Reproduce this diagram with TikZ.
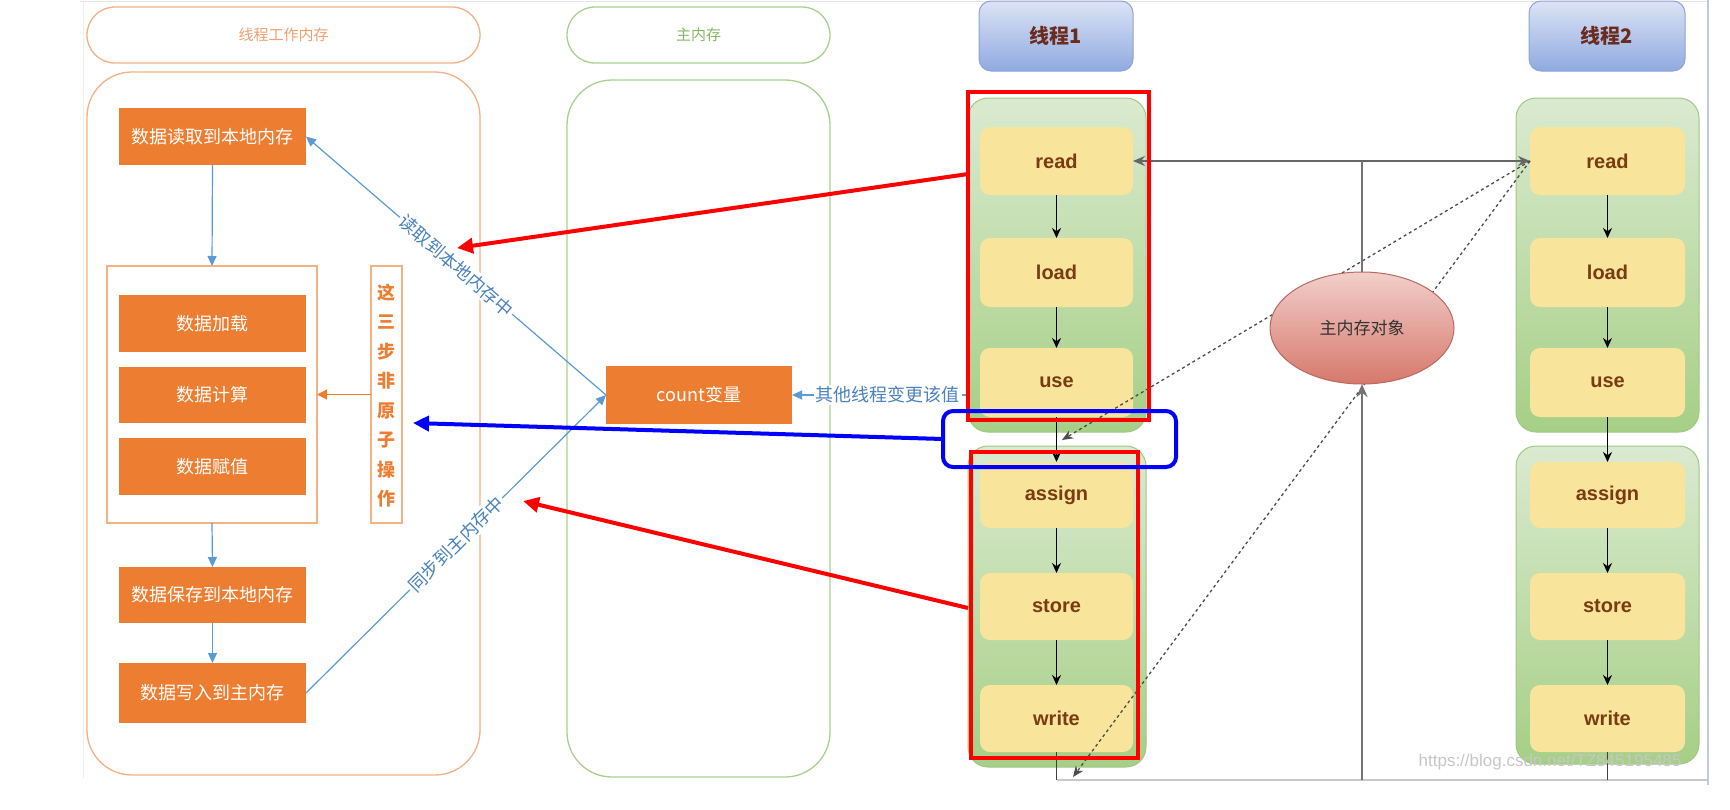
\documentclass[tikz,border=0pt]{standalone}
\usepackage{fontspec}
\setmainfont{Liberation Sans}
\newfontfamily\cjk{Noto Sans CJK SC}
\usetikzlibrary{arrows.meta,shapes.geometric,calc}
\definecolor{orA}{HTML}{ED7D31}
\definecolor{orL}{HTML}{F4B183}
\definecolor{orT}{HTML}{F0A070}
\definecolor{grL}{HTML}{A9D18E}
\definecolor{grT}{HTML}{86B862}
\definecolor{blA}{HTML}{5B9BD5}
\definecolor{blT}{HTML}{4A82BE}
\definecolor{yel}{HTML}{F8E49A}
\definecolor{brn}{HTML}{7A3A12}
\definecolor{gTop}{HTML}{DAEAD0}
\definecolor{gBot}{HTML}{A6CF86}
\definecolor{gBd}{HTML}{A0C884}
\definecolor{hTop}{HTML}{DCE3F5}
\definecolor{hBot}{HTML}{8FAAE0}
\definecolor{hBd}{HTML}{8DA2D6}
\definecolor{hTx}{HTML}{6A2C1E}
\definecolor{eTop}{HTML}{F2CFCB}
\definecolor{eBot}{HTML}{D6786B}
\definecolor{eBd}{HTML}{B96A60}
\begin{document}
\begin{tikzpicture}[x=1pt,y=-1pt,
  every node/.style={inner sep=0pt, outer sep=0pt},
  cj/.style={font=\cjk\fontsize{18}{20}\selectfont},
  obox/.style={fill=orA, text=white, minimum width=187pt, cj},
  pill/.style={draw, line width=1.3pt, rounded corners=28pt, minimum height=56pt, font=\cjk\fontsize{15}{17}\selectfont},
  panel/.style={draw, line width=1.3pt, rounded corners=45pt},
  barr/.style={draw=blA, line width=1.2pt, -{Triangle[length=10pt,width=9pt]}},
  lbl/.style={fill=white, inner sep=2pt, text=blT, cj},
  grp/.style={draw=gBd, line width=1pt, rounded corners=20pt, top color=gTop, bottom color=gBot},
  ybox/.style={fill=yel, rounded corners=10pt, text=brn, font=\bfseries\fontsize{20}{22}\selectfont},
  hdr/.style={draw=hBd, line width=1pt, rounded corners=12pt, top color=hTop, bottom color=hBot, minimum height=70pt, text=hTx, font=\cjk\bfseries\fontsize{20}{22}\selectfont},
  karr/.style={line width=1.5pt, -{Stealth[length=10pt,width=9pt]}},
  dsh/.style={draw=black!70, line width=1.3pt, dash pattern=on 3pt off 3pt, -{Stealth[length=11pt,width=9pt]}},
  gline/.style={draw=black!55, line width=2.5pt},
  redbox/.style={draw=red, line width=4pt},
  redarr/.style={draw=red, line width=4pt, -{Triangle[length=16pt,width=15pt]}},
  bluarr/.style={draw=blue, line width=4pt, -{Triangle[length=16pt,width=15pt]}}
]
\useasboundingbox (0,0) rectangle (1730,809);
\fill[white] (0,0) rectangle (1730,809);
% faint screenshot border
\draw[draw=black!10, line width=1pt] (80,1) -- (1708,1);
\draw[draw=black!7, line width=1pt] (83,1) -- (83,778);
\draw[draw={rgb,255:red,190;green,202;blue,222}, line width=2pt] (1708,0) -- (1708,785);

% ---------- left: thread working memory ----------
\node[pill, draw=orL, text=orT, minimum width=393pt] (ttlA) at (283.5,35) {线程工作内存};
\node[panel, draw=orL, minimum width=393pt, minimum height=703pt] (panA) at (283.5,423.5) {};
\node[obox, minimum height=57pt] (b1) at (212.5,136.5) {数据读取到本地内存};
\node[draw=orL, line width=1.3pt, minimum width=210pt, minimum height=257pt] (grpA) at (212,394.5) {};
\node[obox, minimum height=57pt] (b2) at (212.5,323.5) {数据加载};
\node[obox, minimum height=56pt] (b3) at (212.5,395) {数据计算};
\node[obox, minimum height=57pt] (b4) at (212.5,466.5) {数据赋值};
\node[obox, minimum height=56pt] (b5) at (212.5,595) {数据保存到本地内存};
\node[obox, minimum height=60pt] (b6) at (212.5,693) {数据写入到主内存};
\node[draw=orL, line width=1.3pt, minimum width=31pt, minimum height=257pt] (vbx) at (386.5,394.5) {};
\node[text=orA, align=center, font=\cjk\bfseries\fontsize{18}{29.5}\selectfont] (vtx) at (386.5,395.5) {这\\三\\步\\非\\原\\子\\操\\作};
\draw[barr] (b1.south) -- (grpA.north);
\draw[barr] (grpA.south) -- (b5.north);
\draw[barr] (b5.south) -- (b6.north);
\draw[draw=orA, line width=1.2pt, -{Triangle[length=10pt,width=10pt]}] (vbx.west) -- (grpA.east);

% ---------- middle: main memory ----------
\node[pill, draw=grL, text=grT, minimum width=263pt] (ttlB) at (698.5,35) {主内存};
\node[panel, draw=grL, minimum width=263pt, minimum height=697pt] (panB) at (698.5,428.5) {};
\node[obox, minimum width=186pt, minimum height=58pt] (cnt) at (699,395) {count变量};
\draw[barr] (cnt.west) -- node[lbl, sloped] {读取到本地内存中} (b1.east);
\draw[barr] (b6.east) -- node[lbl, sloped] {同步到主内存中} (cnt.west);
\coordinate (oth) at (966,395);
\draw[barr] (oth) -- node[lbl, pos=0.45] {其他线程变更该值} (cnt.east);

% ---------- right: threads ----------
\node[hdr, minimum width=154pt] (h1) at (1056,36) {线程1};
\node[hdr, minimum width=156pt] (h2) at (1607,36) {线程2};
\node[grp, minimum width=178pt, minimum height=334pt] (g1a) at (1057,265) {};
\node[grp, minimum width=178pt, minimum height=321pt] (g1b) at (1057,606.5) {};
\node[grp, minimum width=183pt, minimum height=334pt] (g2a) at (1607.5,265) {};
\node[grp, minimum width=183pt, minimum height=318pt] (g2b) at (1607.5,605) {};

\foreach \nm/\xx/\ww in {A/1056.5/153, B/1607.5/155}{
  \node[ybox, minimum width=\ww pt, minimum height=68pt] (read\nm) at (\xx,161) {read};
  \node[ybox, minimum width=\ww pt, minimum height=69pt] (load\nm) at (\xx,272.5) {load};
  \node[ybox, minimum width=\ww pt, minimum height=69pt] (use\nm) at (\xx,382.5) {use};
  \node[ybox, minimum width=\ww pt, minimum height=66pt] (assign\nm) at (\xx,495) {assign};
  \node[ybox, minimum width=\ww pt, minimum height=67pt] (store\nm) at (\xx,606.5) {store};
  \node[ybox, minimum width=\ww pt, minimum height=67pt] (write\nm) at (\xx,718.5) {write};
  \draw[karr] (read\nm.south) -- (load\nm.north);
  \draw[karr] (load\nm.south) -- (use\nm.north);
  \draw[karr] (use\nm.south) -- (assign\nm.north);
  \draw[karr] (store\nm.south) -- (write\nm.north);
  \draw[karr] (assign\nm.south) -- (store\nm.north);
}
\coordinate (botA) at (1056.5,780);
\coordinate (botB) at (1607.5,780);
\coordinate (botE) at (1362,780);
\coordinate (botR) at (1707,780);
\coordinate (topJ) at (1362,161);
\draw[draw=black!22, line width=1.5pt] (botA) -- (botR);
\draw[line width=1.5pt, draw=black!75] (writeA.south) -- (botA);
\draw[line width=1.5pt, draw=black!75] (writeB.south) -- (botB);
\draw[draw=black!60, line width=2pt, {Stealth[length=12pt,width=10pt]}-{Stealth[length=12pt,width=10pt]}] (readA.east) -- (readB.west);

\coordinate (d1) at (1062,440);
\coordinate (d2) at (1073,777);
\draw[dsh] (readB.west) -- (d1);
\draw[dsh] (readB.west) -- (d2);

\node[ellipse, draw=eBd, line width=1pt, top color=eTop, bottom color=eBot, minimum width=184pt, minimum height=112pt, text=black!80, font=\cjk\fontsize{17}{19}\selectfont] (ell) at (1362,328) {主内存对象};
\draw[gline] (ell.north) -- (topJ);
\draw[gline, {Stealth[length=13pt,width=11pt]}-] (ell.south) -- (botE);

% highlight boxes
\node[redbox, minimum width=181pt, minimum height=328pt] (r1) at (1058.5,256) {};
\node[redbox, minimum width=167pt, minimum height=306pt] (r2) at (1054.5,605) {};
\node[draw=blue, line width=4pt, rounded corners=10pt, minimum width=233pt, minimum height=56pt] (bbx) at (1059.5,439) {};

% long annotation arrows
\coordinate (ra) at (968,174);
\coordinate (rat) at (457,248);
\coordinate (rb) at (968,608);
\coordinate (rbt) at (523,501);
\coordinate (bt) at (413,423);
\draw[redarr] (ra) -- (rat);
\draw[redarr] (rb) -- (rbt);
\draw[bluarr] (bbx.west) -- (bt);

% watermark
\node[text=black!22, font=\fontsize{17}{19}\selectfont] (wm) at (1550,762) {https://blog.csdn.net/TZ845195485};
\end{tikzpicture}
\end{document}
